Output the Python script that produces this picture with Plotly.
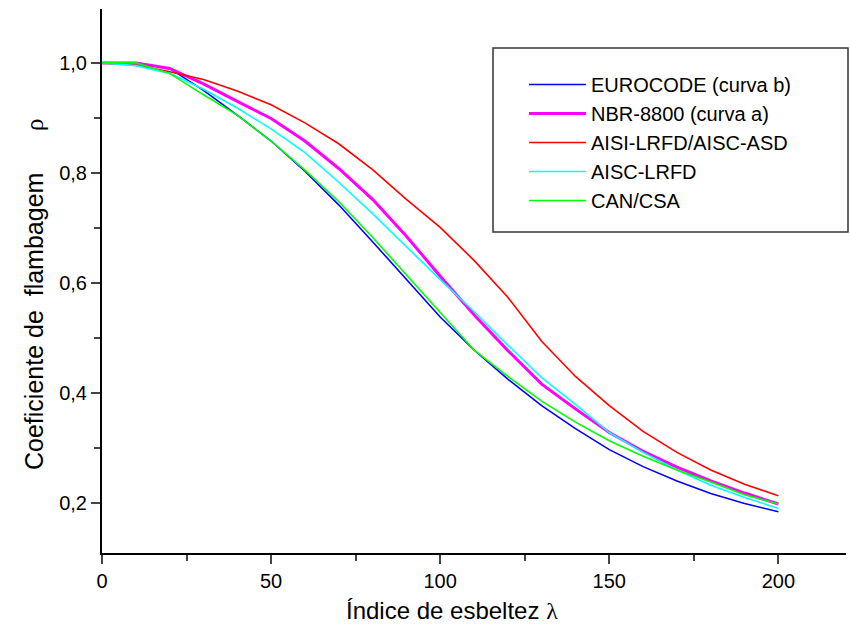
import plotly.graph_objects as go

lam = [0, 10, 20, 30, 40, 50, 60, 70, 80, 90, 100, 110, 120, 130, 140, 150, 160, 170, 180, 190, 200]

eurocode_b = [1.0, 1.0, 0.99, 0.95, 0.905, 0.858, 0.803, 0.742, 0.675, 0.606, 0.538, 0.478, 0.425,
              0.377, 0.335, 0.297, 0.266, 0.240, 0.217, 0.199, 0.184]
nbr_a = [1.0, 1.0, 0.99, 0.962, 0.930, 0.899, 0.858, 0.808, 0.752, 0.685, 0.612, 0.542, 0.477,
         0.416, 0.371, 0.328, 0.294, 0.265, 0.240, 0.218, 0.198]
aisi_asd = [1.0, 0.996, 0.984, 0.970, 0.949, 0.924, 0.891, 0.853, 0.806, 0.752, 0.701, 0.641, 0.574,
            0.494, 0.430, 0.377, 0.330, 0.292, 0.260, 0.234, 0.213]
aisc_lrfd = [1.0, 0.995, 0.981, 0.952, 0.918, 0.880, 0.837, 0.783, 0.726, 0.666, 0.606, 0.548, 0.487,
             0.428, 0.379, 0.328, 0.292, 0.260, 0.232, 0.210, 0.190]
can_csa = [1.0, 1.0, 0.981, 0.942, 0.905, 0.858, 0.805, 0.748, 0.683, 0.615, 0.545, 0.478, 0.430,
           0.385, 0.347, 0.313, 0.285, 0.260, 0.238, 0.215, 0.198]

names = ["EUROCODE (curva b)", "NBR-8800 (curva a)", "AISI-LRFD/AISC-ASD", "AISC-LRFD", "CAN/CSA"]
series = [eurocode_b, nbr_a, aisi_asd, aisc_lrfd, can_csa]
colors = ["#0000FF", "#FF00FF", "#FF0000", "#00FFFF", "#00FF00"]
widths = [1.6, 3, 1.6, 1.6, 1.6]

x_ticks = [0, 50, 100, 150, 200]
y_ticks = [0.2, 0.4, 0.6, 0.8, 1.0]

fig = go.Figure()
for n, s, c, w in zip(names, series, colors, widths):
    fig.add_trace(go.Scatter(x=lam, y=s, mode="lines", name=n,
                             line=dict(color=c, width=w)))

FONT = "Liberation Sans, Arial, sans-serif"
L, R, T, B = 102, 846, 9, 553
PW, PH = R - L, B - T
SERIF = "<span style=\"font-family:'Liberation Serif'\">%s</span>"

fig.update_layout(
    width=851, height=635,
    margin=dict(l=L, r=851 - R, t=T, b=635 - B),
    paper_bgcolor="white", plot_bgcolor="white",
    separators=",.",
    font=dict(family=FONT, color="black", size=20),
    showlegend=True,
    legend=dict(x=(524 - L) / PW, y=(B - 65) / PH, xanchor="left", yanchor="top",
                bgcolor="rgba(0,0,0,0)", borderwidth=0,
                font=dict(size=20, family=FONT), itemwidth=57,
                tracegroupgap=0),
    xaxis=dict(range=[0, 220], tickvals=x_ticks, ticks="outside", ticklen=9, tickwidth=1.5,
               showline=True, linewidth=2, linecolor="black", showgrid=False, zeroline=False,
               minor=dict(dtick=25, ticks="outside", ticklen=6, tickwidth=1.5, showgrid=False),
               tickfont=dict(size=20)),
    yaxis=dict(range=[0.109, 1.098], tickvals=y_ticks, tickformat=".1f", ticks="outside",
               ticklen=9, tickwidth=1.5,
               showline=True, linewidth=2, linecolor="black", showgrid=False, zeroline=False,
               minor=dict(dtick=0.1, ticks="outside", ticklen=6, tickwidth=1.5, showgrid=False),
               tickfont=dict(size=20)),
    annotations=[
        dict(text="Índice de esbeltez " + SERIF % "λ", xref="paper", yref="paper",
             x=(452 - L) / PW, y=(B - 610) / PH, xanchor="center", yanchor="middle",
             showarrow=False, font=dict(size=24, family=FONT)),
        dict(text="Coeficiente de\u00a0\u00a0flambagem\u00a0\u00a0\u00a0\u00a0\u00a0\u00a0" + SERIF % "ρ",
             xref="paper", yref="paper", textangle=-90,
             x=(34 - L) / PW, y=(B - 294) / PH, xanchor="center", yanchor="middle",
             showarrow=False, font=dict(size=25, family=FONT)),
    ],
    shapes=[dict(type="rect", xref="paper", yref="paper",
                 x0=(493 - L) / PW, x1=(848 - L) / PW,
                 y0=(B - 232) / PH, y1=(B - 48) / PH,
                 line=dict(color="#333333", width=1.5), fillcolor="rgba(0,0,0,0)")],
)

fig.write_html("out.html")
